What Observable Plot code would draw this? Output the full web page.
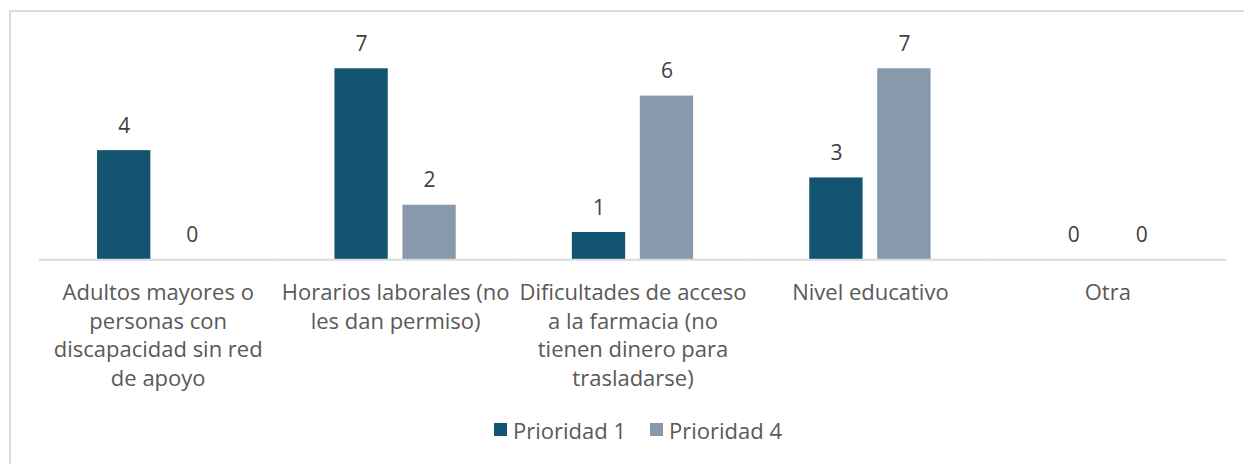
<!DOCTYPE html>
<html>
<head>
<meta charset="utf-8">
<script src="https://cdn.jsdelivr.net/npm/d3@7"></script>
<script src="https://cdn.jsdelivr.net/npm/@observablehq/plot@0.6"></script>
<style>
  html, body { margin: 0; padding: 0; background: #fff; }
  #wrap { position: relative; width: 1244px; height: 464px; overflow: hidden; font-family: "Open Sans", Roboto, sans-serif; }
  #frame { position: absolute; left: 9px; top: 10px; width: 1260px; height: 480px; border: 2px solid #dcdcdc; box-sizing: border-box; }
  #chart { position: absolute; left: 0; top: 0; }
  #legend { position: absolute; left: 494px; top: 413px; }
  .lg-swatch { margin-right: 24px !important; }
  .lg-swatch > svg { margin-right: 6px !important; }
</style>
</head>
<body>
<div id="wrap">
  <div id="frame"></div>
  <div id="chart"></div>
  <div id="legend"></div>
</div>
<script>
const categories = [
  "Adultos mayores o personas con discapacidad sin red de apoyo",
  "Horarios laborales (no les dan permiso)",
  "Dificultades de acceso a la farmacia (no tienen dinero para trasladarse)",
  "Nivel educativo",
  "Otra"
];
const tickLabels = [
  "Adultos mayores o\npersonas con\ndiscapacidad sin red\nde apoyo",
  "Horarios laborales (no\nles dan permiso)",
  "Dificultades de acceso\na la farmacia (no\ntienen dinero para\ntrasladarse)",
  "Nivel educativo",
  "Otra"
];
const seriesNames = ["Prioridad 1", "Prioridad 4"];
const prioridad1 = [4, 7, 1, 3, 0];
const prioridad4 = [0, 2, 6, 7, 0];
const seriesColors = ["#135470", "#8799AA"];

const data = [];
categories.forEach((c, i) => {
  data.push({category: c, series: seriesNames[0], value: prioridad1[i]});
  data.push({category: c, series: seriesNames[1], value: prioridad4[i]});
});
const labelOf = new Map(categories.map((c, i) => [c, tickLabels[i]]));

const FONT = "'Open Sans', Roboto, sans-serif";

const plot = Plot.plot({
  width: 1244,
  height: 400,
  marginLeft: 39,
  marginRight: 18,
  marginTop: 41,
  marginBottom: 140.7,
  style: {fontFamily: FONT, background: "transparent", overflow: "visible"},
  fx: {domain: categories, paddingInner: 0, paddingOuter: 0, round: false, axis: null},
  x: {domain: seriesNames, paddingInner: 0.216, paddingOuter: 0.854, round: false, axis: null},
  y: {domain: [0, 8], axis: null},
  color: {domain: seriesNames, range: seriesColors},
  marks: [
    Plot.barY(data, {fx: "category", x: "series", y: "value", fill: "series"}),
    Plot.ruleY([0], {stroke: "#d9d9d9", strokeWidth: 2}),
    Plot.text(data, {fx: "category", x: "series", y: "value", text: d => String(d.value),
      lineAnchor: "bottom", dy: -18, fill: "#404040", fontSize: 21}),
    Plot.text(categories, {fx: d => d, text: d => labelOf.get(d), frameAnchor: "bottom",
      lineAnchor: "top", dy: 20, lineHeight: 28.6 / 22, fill: "#595959", fontSize: 22})
  ]
});
document.getElementById("chart").appendChild(plot);

const legend = plot.legend("color", {swatchSize: 13, className: "lg",
  style: {fontFamily: FONT, fontSize: "22px", color: "#595959"}});
document.getElementById("legend").appendChild(legend);
</script>
</body>
</html>
